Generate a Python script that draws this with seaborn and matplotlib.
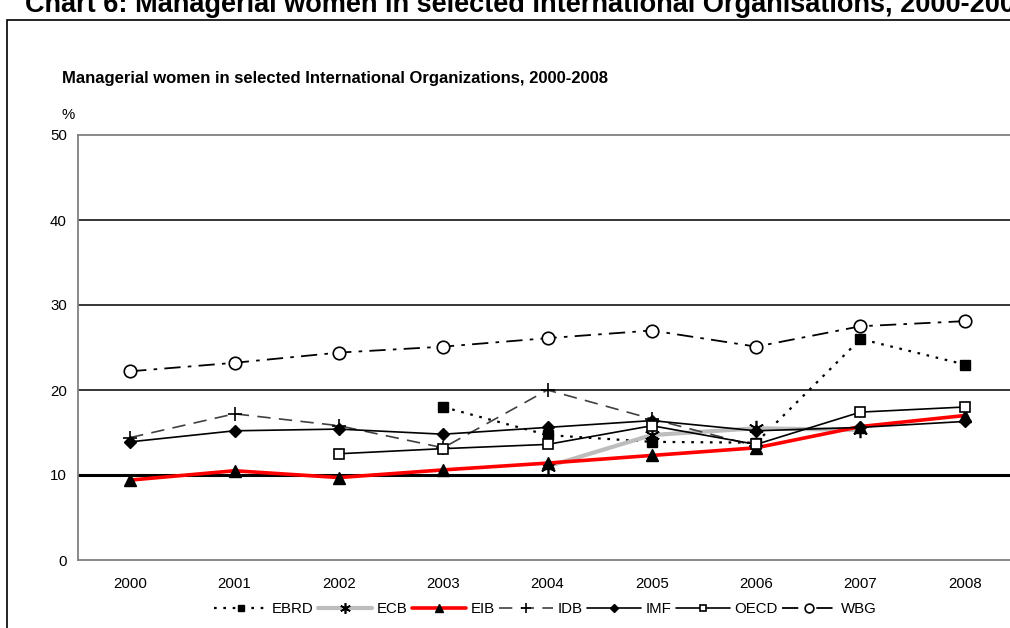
"""
Managerial women in selected International Organizations, 2000-2008
"""

# import section
import numpy as np
import pandas as pd
import seaborn as sns
import matplotlib.pyplot as plt
from matplotlib.patches import Rectangle

# data (percent)
YEARS = ['2000', '2001', '2002', '2003', '2004', '2005', '2006', '2007', '2008']
EBRD = [np.nan, np.nan, np.nan, 18.0, 14.7, 13.9, 13.8, 26.0, 23.0]
ECB = [np.nan, np.nan, np.nan, np.nan, 11.0, 14.7, 15.5, 15.3, np.nan]
EIB = [9.4, 10.5, 9.7, 10.6, 11.4, 12.3, 13.2, 15.7, 17.0]
IDB = [14.4, 17.2, 15.8, 13.2, 20.0, 16.6, 13.4, np.nan, np.nan]
IMF = [13.9, 15.2, 15.4, 14.8, 15.6, 16.4, 15.2, 15.6, 16.3]
OECD = [np.nan, np.nan, 12.5, 13.1, 13.6, 15.8, 13.6, 17.4, 18.0]
WBG = [22.2, 23.2, 24.4, 25.1, 26.1, 27.0, 25.1, 27.5, 28.1]

SERIES = {'EBRD': EBRD, 'ECB': ECB, 'EIB': EIB, 'IDB': IDB,
          'IMF': IMF, 'OECD': OECD, 'WBG': WBG}

# line styles per organisation
STYLES = {
    'EBRD': dict(color='black', lw=1.6, ls=(0, (1.2, 3)), marker='s', ms=7,
                 mfc='black', mec='black'),
    'ECB': dict(color='#bdbdbd', lw=3, ls='-', marker=(6, 2, 0), ms=11,
                mfc='black', mec='black', mew=1.2),
    'EIB': dict(color='#ff0000', lw=2.6, ls='-', marker='^', ms=9,
                mfc='black', mec='black'),
    'IDB': dict(color='#404040', lw=1.2, ls=(0, (8, 5)), marker='+', ms=10,
                mfc='black', mec='black', mew=1.2),
    'IMF': dict(color='black', lw=1.2, ls='-', marker='D', ms=6,
                mfc='black', mec='black'),
    'OECD': dict(color='black', lw=1.2, ls='-', marker='s', ms=7,
                 mfc='white', mec='black', mew=1.2),
    'WBG': dict(color='black', lw=1.3, ls=(0, (9, 4, 2, 4)), marker='o', ms=9,
                mfc='white', mec='black', mew=1.2),
}

sns.set_style('white')
plt.rcParams['font.family'] = ['Liberation Sans', 'DejaVu Sans']
plt.rcParams['text.color'] = 'black'
plt.rcParams['xtick.color'] = 'black'
plt.rcParams['ytick.color'] = 'black'

# set plot dimensions
X_PIXELS, Y_PIXELS, DPI = 1010, 628, 100
fig = plt.figure(figsize=(X_PIXELS / DPI, Y_PIXELS / DPI), dpi=DPI)
ax = fig.add_axes([78 / X_PIXELS, 68 / Y_PIXELS, 939 / X_PIXELS, 425 / Y_PIXELS])

# outer frame of the embedded chart
fig.patches.append(Rectangle((7 / X_PIXELS, -0.05), 1.2, (628 - 20) / Y_PIXELS + 0.05,
                             transform=fig.transFigure, fill=False,
                             edgecolor='black', lw=1.2))

# grid lines
for val in [20, 30, 40]:
    ax.axhline(val, color='black', lw=1.1, zorder=1)
ax.axhline(10, color='black', lw=2.2, zorder=1)

for name, values in SERIES.items():
    frame = pd.DataFrame({'pos': np.arange(len(YEARS)), 'value': values}).dropna()
    st = STYLES[name]
    sns.lineplot(x='pos', y='value', data=frame, ax=ax, color=st['color'],
                 linewidth=st['lw'], linestyle=st['ls'], marker=st['marker'],
                 markersize=st['ms'], markerfacecolor=st['mfc'],
                 markeredgecolor=st['mec'], markeredgewidth=st.get('mew', 1),
                 label=name, zorder=3)

ax.set_xlim(-0.5, len(YEARS) - 0.5)
ax.set_ylim(0, 50)
ax.set_yticks([0, 10, 20, 30, 40, 50])
ax.set_xticks(np.arange(len(YEARS)))
ax.set_xticklabels(YEARS)
ax.set_xticks(np.arange(len(YEARS) + 1) - 0.5, minor=True)
ax.tick_params(axis='x', which='major', length=0, pad=12, labelsize=10.8,
               labelcolor='black')
ax.tick_params(axis='x', which='minor', length=5, color='#808080', width=1)
ax.tick_params(axis='y', length=5, color='#808080', width=1, labelsize=10.8,
               pad=3, labelcolor='black')
ax.set_xlabel('')
ax.set_ylabel('')
for side in ['left', 'bottom', 'top', 'right']:
    ax.spines[side].set_color('#808080')
    ax.spines[side].set_linewidth(1.3)

# texts
fig.text(25 / X_PIXELS, (628 - 12) / Y_PIXELS,
         'Chart 6: Managerial women in selected International Organisations, 2000-2008',
         fontsize=19.5, fontweight='bold', ha='left', va='baseline')
fig.text(62 / X_PIXELS, (628 - 78) / Y_PIXELS,
         'Managerial women in selected International Organizations, 2000-2008',
         fontsize=12, fontweight='bold', ha='left', va='center')
fig.text(62 / X_PIXELS, (628 - 115) / Y_PIXELS, '%', fontsize=10.8,
         ha='left', va='center')

leg = ax.legend(loc='center', bbox_to_anchor=(545 / X_PIXELS, 19 / Y_PIXELS),
                bbox_transform=fig.transFigure, ncol=7, frameon=False,
                fontsize=10.8, handlelength=3.6, handletextpad=0.3,
                columnspacing=0.3, markerscale=0.7)

plt.savefig('out.png', dpi=DPI)
